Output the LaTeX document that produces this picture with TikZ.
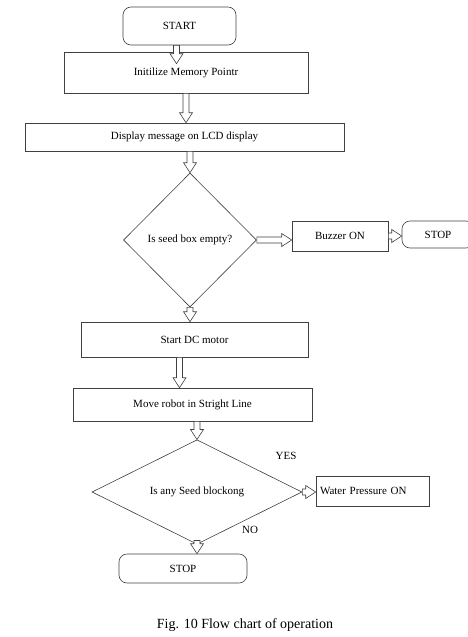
\documentclass[tikz,border=0pt]{standalone}
\usepackage{fontspec}
\setmainfont{Liberation Serif}
\usetikzlibrary{calc,shapes.geometric}

\begin{document}
\begin{tikzpicture}[
    x=1pt, y=-1pt,
    box/.style={draw=black!75, line width=0.6pt, inner sep=2pt, font=\fontsize{11}{13}\selectfont},
    term/.style={box, rounded corners=8pt},
    dec/.style={box, diamond, aspect=1, inner sep=0pt},
    lbl/.style={font=\fontsize{11}{13}\selectfont},
    blk/.style={draw=black!75, fill=white, line width=0.6pt,
        to path={let \p1=(\tikztostart), \p2=(\tikztotarget), \n1={atan2(\y2-\y1,\x2-\x1)} in
            ($(\p1)+(\n1+90:3pt)$) -- ($(\p2)+(\n1:-10pt)+(\n1+90:3pt)$) -- ($(\p2)+(\n1:-10pt)+(\n1+90:6.5pt)$)
            -- (\p2) -- ($(\p2)+(\n1:-10pt)+(\n1-90:6.5pt)$) -- ($(\p2)+(\n1:-10pt)+(\n1-90:3pt)$)
            -- ($(\p1)+(\n1-90:3pt)$) -- cycle}}
]
\useasboundingbox (0,0) rectangle (468,637);

\node[term, minimum width=113pt, minimum height=38pt] (start) at (179.5,26) {START};
\node[box, minimum width=244pt, minimum height=41pt] (init) at (186,72.5) {Initilize Memory Pointr};
\node[box, minimum width=319pt, minimum height=28pt] (disp) at (184.5,137) {Display message on LCD display};
\node[dec, minimum width=133pt, minimum height=134pt] (empty) at (190,240) {Is seed box empty?};
\node[box, minimum width=96pt, minimum height=30pt] (buzz) at (340,236) {Buzzer ON};
\node[term, minimum width=72pt, minimum height=27pt] (stopA) at (438,234.5) {STOP};
\node[box, minimum width=227pt, minimum height=35pt] (motor) at (194.5,339.5) {Start DC motor};
\node[box, minimum width=239pt, minimum height=33pt] (move) at (192.5,404.5) {Move robot in Stright Line};
\node[dec, minimum width=210pt, minimum height=100pt] (block) at (197,492) {Is any Seed blockong};
\node[box, minimum width=113pt, minimum height=30pt, text width=105pt, inner xsep=4pt, align=left] (water) at (372.5,491) {Water Pressure ON};
\node[term, minimum width=128pt, minimum height=29pt] (stopB) at (183,568.5) {STOP};

\node[lbl] (yes) at (286,456) {YES};
\node[lbl] (no) at (250,530) {NO};

\draw[blk] ([xshift=-3pt]start.south) to ([xshift=-3pt,yshift=-12pt]start.south |- init.north);
\draw[blk] (init.south) to (init.south |- disp.north);
\draw[blk] (empty.north |- disp.south) to (empty.north);
\draw[blk] (empty.east) to (empty.east -| buzz.west);
\draw[blk] (buzz.east) to (buzz.east -| stopA.west);
\draw[blk] (empty.south) to (empty.south |- motor.north);
\draw[blk] ([xshift=-15pt]motor.south) to ([xshift=-15pt]motor.south |- move.north);
\draw[blk] (block.north |- move.south) to (block.north);
\draw[blk] (block.east) to (block.east -| water.west);
\draw[blk] ([yshift=4pt]block.south) to (block.south |- stopB.north);

\node[font=\fontsize{14}{16}\selectfont] (cap) at (245,625) {Fig. 10 Flow chart of operation};
\end{tikzpicture}
\end{document}
